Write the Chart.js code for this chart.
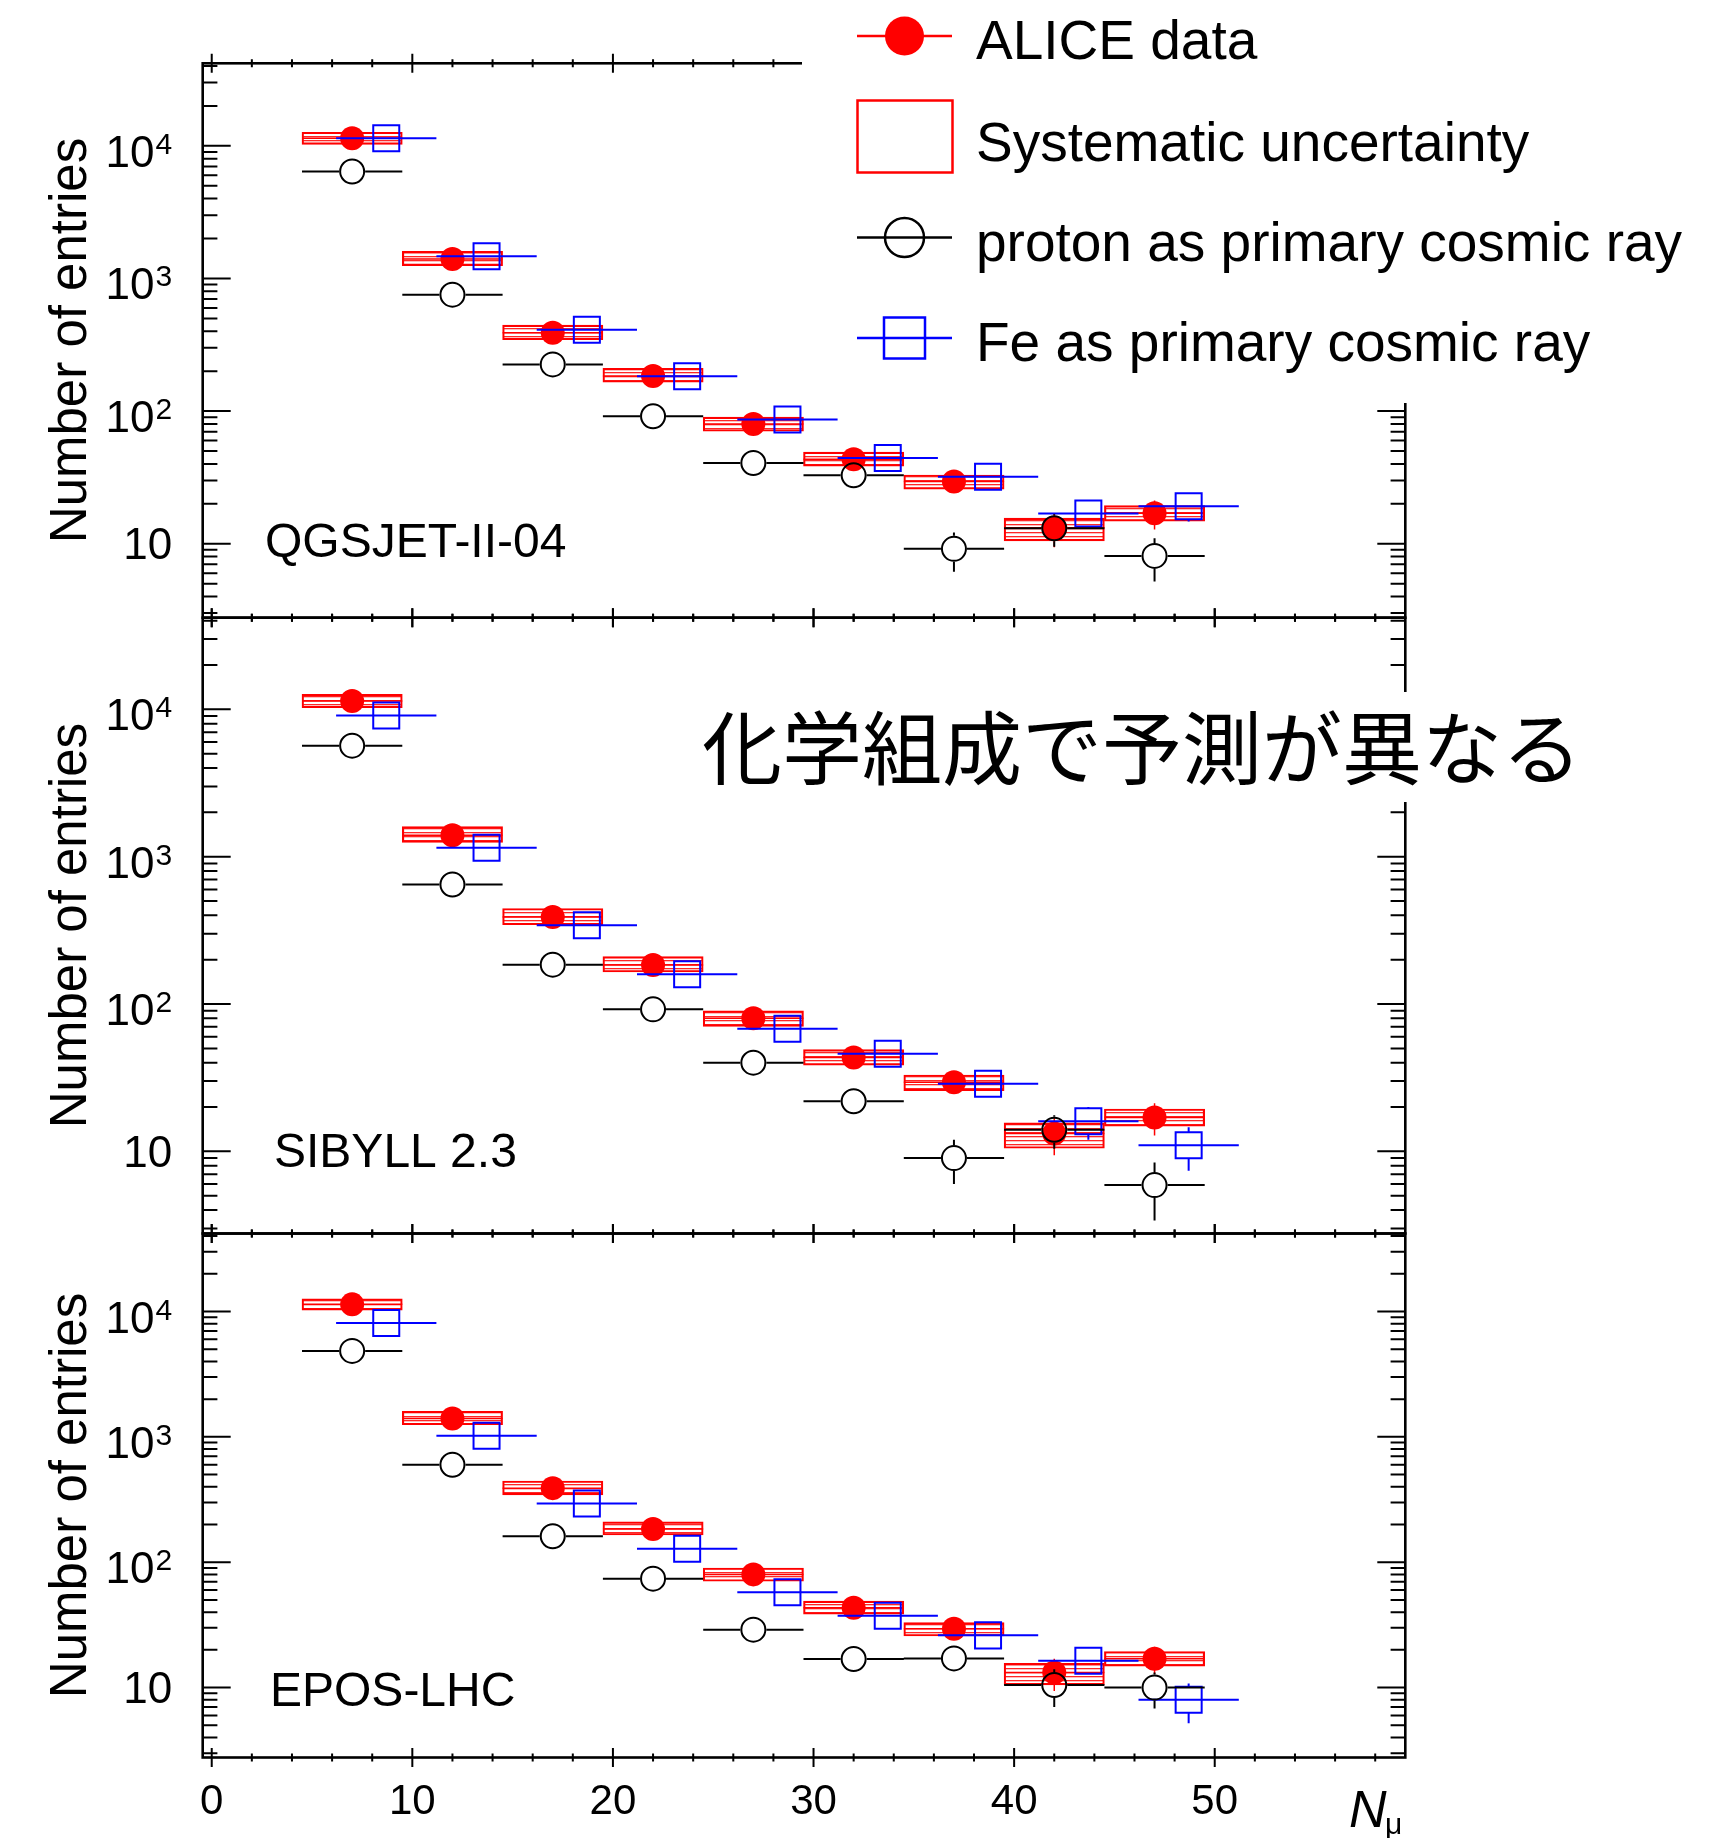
<!DOCTYPE html>
<html>
<head>
<meta charset="utf-8">
<script src="https://cdn.jsdelivr.net/npm/chart.js@4.4.1/dist/chart.umd.min.js"></script>
<style>
  html, body { margin: 0; padding: 0; background: #fff; }
  #page { position: relative; width: 1736px; height: 1838px; overflow: hidden; background: #fff; }
  #page canvas, #page svg { position: absolute; left: 0; top: 0; }
</style>
</head>
<body>
<div id="page">
  <canvas id="p1" width="1736" height="1838"></canvas>
  <canvas id="p2" width="1736" height="1838"></canvas>
  <canvas id="p3" width="1736" height="1838"></canvas>
  <svg id="overlay" width="1736" height="1838" xmlns="http://www.w3.org/2000/svg" style="pointer-events:none">
    <!-- legend (white box hides the frame corner, as in the original) -->
    <rect x="802" y="0" width="934" height="403" fill="#fff"/>
    <line x1="857" y1="36" x2="952" y2="36" stroke="#ff0000" stroke-width="2.5"/>
    <circle cx="904.5" cy="36" r="19.5" fill="#ff0000"/>
    <rect x="857.5" y="100.5" width="95" height="72" fill="#fff" stroke="#ff0000" stroke-width="2.5"/>
    <line x1="857" y1="237.5" x2="952" y2="237.5" stroke="#000" stroke-width="2.5"/>
    <circle cx="904.5" cy="237.5" r="19.5" fill="none" stroke="#000" stroke-width="2.5"/>
    <line x1="857" y1="338" x2="952" y2="338" stroke="#0000ff" stroke-width="2.5"/>
    <rect x="884" y="317.5" width="41" height="41" fill="none" stroke="#0000ff" stroke-width="2.5"/>
    <g font-family="Liberation Sans, Arial, sans-serif" font-size="55" fill="#000">
      <text x="976" y="59">ALICE data</text>
      <text x="976" y="161">Systematic uncertainty</text>
      <text x="976" y="261">proton as primary cosmic ray</text>
      <text x="976" y="361">Fe as primary cosmic ray</text>
    </g>
    <!-- annotation -->
    <rect x="690" y="692" width="905" height="110" fill="#fff"/>
    <text x="702" y="778" font-family="Noto Sans CJK JP, sans-serif" font-size="80" fill="#000">化学組成で予測が異なる</text>
    <!-- x axis title -->
    <text x="1349" y="1827" font-family="Liberation Sans, Arial, sans-serif" font-size="52" font-style="italic" fill="#000">N</text>
    <text x="1385" y="1834" font-family="Liberation Sans, Arial, sans-serif" font-size="30" fill="#000">μ</text>
  </svg>
</div>
<script>
// bins of N_mu (bin width 5), Fe points are drawn slightly shifted
const binCenters = [7, 12, 17, 22, 27, 32, 37, 42, 47];
const feCenters = [8.7, 13.7, 18.7, 23.7, 28.7, 33.7, 38.7, 43.7, 48.7];
const binHalfWidth = 2.5;

// ALICE data (same in every panel)
const aliceData = [11400, 1400, 390, 184, 80, 43.4, 29.5, 13.2, 17.0];
const aliceStat = [0, 0, 0, 0, 0, 0, 0, 3.8, 4.2];
const aliceSysLow = [10250, 1250, 345, 165, 70.5, 38.5, 25.8, 10.5, 14.8];
const aliceSysHigh = [12650, 1600, 445, 210, 90, 49, 33, 15.6, 19.4];

// QGSJET-II-04
const qgsProton = [6400, 755, 225, 91.5, 40.6, 32.8, 9.15, 13.1, 8.1];
const qgsProtonErr = [0, 0, 0, 0, 0, 0, 3.0, 3.6, 2.9];
const qgsFe = [11400, 1470, 411, 183, 86.6, 44.3, 32.0, 16.9, 19.2];
const qgsFeErr = [0, 0, 0, 0, 0, 0, 0, 2.5, 4.5];

// SIBYLL 2.3
const sibProton = [5670, 647, 185, 92, 40, 21.9, 9.0, 14.0, 5.9];
const sibProtonErr = [0, 0, 0, 0, 0, 2.0, 3.0, 3.6, 2.5];
const sibFe = [9090, 1150, 342, 159, 68, 46, 28.8, 16.0, 11.0];
const sibFeErr = [0, 0, 0, 0, 0, 0, 3.0, 4.0, 3.6];

// EPOS-LHC
const eposProton = [4850, 599, 161, 74, 29, 16.9, 17.1, 10.5, 10.0];
const eposProtonErr = [0, 0, 0, 0, 0, 2.0, 2.0, 3.5, 3.2];
const eposFe = [8110, 1020, 294, 128, 57.7, 37.4, 26.1, 16.4, 8.0];
const eposFeErr = [0, 0, 0, 0, 0, 0, 0, 2.5, 2.8];

// axis ticks
const xMin = -0.45, xMax = 59.5;
const yMin = 2.77, yMax = 41900;
const xMajorTicks = [0, 10, 20, 30, 40, 50];
const xMinorStep = 2;
const yTickValues = [10, 100, 1000, 10000];
const yTickExp = ['', '2', '3', '4'];
const yMinorMult = [2, 3, 4, 5, 6, 7, 8, 9];

const FONT = 'Liberation Sans, Arial, sans-serif';
const RED = '#ff0000', BLUE = '#0000ff';

function hatchPattern() {
  const t = document.createElement('canvas');
  t.width = 8; t.height = 4;
  const c = t.getContext('2d');
  c.fillStyle = 'rgba(255,0,0,0.85)';
  c.fillRect(0, 0, 8, 1.3);
  return c.createPattern(t, 'repeat');
}

// horizontal/vertical error bars, drawn just under each dataset's markers
const errorBars = {
  id: 'errorBars',
  beforeDatasetDraw(chart, args) {
    const ds = chart.data.datasets[args.index];
    if (ds.errX === undefined) return;
    const {ctx, chartArea: a, scales: {x, y}} = chart;
    ctx.save();
    ctx.beginPath();
    ctx.rect(a.left, a.top, a.width, a.height);
    ctx.clip();
    ctx.strokeStyle = ds.pointBorderColor;
    ctx.lineWidth = ds.errWidth;
    ctx.beginPath();
    ds.data.forEach((p, i) => {
      const px = x.getPixelForValue(p.x), py = y.getPixelForValue(p.y);
      const xl = x.getPixelForValue(p.x - ds.errX), xr = x.getPixelForValue(p.x + ds.errX);
      ctx.moveTo(xl, py); ctx.lineTo(px - ds.gapX, py);
      ctx.moveTo(px + ds.gapX, py); ctx.lineTo(xr, py);
      const e = ds.errY[i];
      if (e > 0) {
        const yt = y.getPixelForValue(p.y + e), yb = y.getPixelForValue(p.y - e);
        if (yt < py - ds.gapY) { ctx.moveTo(px, py - ds.gapY); ctx.lineTo(px, yt); }
        if (yb > py + ds.gapY) { ctx.moveTo(px, py + ds.gapY); ctx.lineTo(px, yb); }
      }
    });
    ctx.stroke();
    ctx.restore();
  }
};

// ROOT style frame: ticks on all four sides, y labels with exponents, titles
const panelFrame = {
  id: 'panelFrame',
  afterDraw(chart, args, opts) {
    const {ctx, chartArea: a, scales: {x, y}} = chart;
    ctx.save();
    ctx.strokeStyle = '#000';
    ctx.lineWidth = 2;
    ctx.beginPath();
    for (let v = 0; v <= xMax; v += xMinorStep) {
      const px = x.getPixelForValue(v);
      const len = xMajorTicks.includes(v) ? 9.5 : 4;
      ctx.moveTo(px, a.top - len); ctx.lineTo(px, a.top + len);
      ctx.moveTo(px, a.bottom - len); ctx.lineTo(px, a.bottom + len);
    }
    yTickValues.concat([1]).forEach(dec => {
      yMinorMult.concat([1]).forEach(k => {
        const v = dec * k;
        if (v < yMin || v > yMax) return;
        const py = y.getPixelForValue(v);
        const len = k === 1 ? 28 : 14.7;
        ctx.moveTo(a.left, py); ctx.lineTo(a.left + len, py);
        ctx.moveTo(a.right - len, py); ctx.lineTo(a.right, py);
      });
    });
    ctx.stroke();
    ctx.lineWidth = 2.6;
    ctx.strokeRect(a.left, a.top, a.width, a.height);

    // y tick labels
    ctx.fillStyle = '#000';
    ctx.textAlign = 'right';
    ctx.textBaseline = 'alphabetic';
    const labelRight = a.left - 30.5;
    yTickValues.forEach((v, i) => {
      const py = y.getPixelForValue(v);
      if (!yTickExp[i]) {
        ctx.font = '44px ' + FONT;
        ctx.fillText('10', labelRight, py + 15.5);
      } else {
        ctx.font = '30px ' + FONT;
        const w = ctx.measureText(yTickExp[i]).width;
        ctx.fillText(yTickExp[i], labelRight, py + 8);
        ctx.font = '44px ' + FONT;
        ctx.fillText('10', labelRight - w - 1, py + 21);
      }
    });

    // y axis title
    ctx.save();
    ctx.translate(86, (a.top + a.bottom) / 2);
    ctx.rotate(-Math.PI / 2);
    ctx.textAlign = 'center';
    ctx.font = '51px ' + FONT;
    ctx.fillText('Number of entries', 0, 0);
    ctx.restore();

    // model name
    ctx.textAlign = 'left';
    ctx.font = '48px ' + FONT;
    ctx.fillText(opts.title, opts.titleX, opts.titleY);
    ctx.restore();
  }
};

function makePanel(id, proton, protonErr, fe, feErr, box, showX, title, titleX, titleY) {
  const pattern = hatchPattern();
  return new Chart(document.getElementById(id), {
    type: 'scatter',
    data: {
      datasets: [
        {
          label: 'proton as primary cosmic ray',
          data: binCenters.map((v, i) => ({x: v, y: proton[i]})),
          pointStyle: 'circle', pointRadius: 12,
          pointBorderWidth: 2, pointBorderColor: '#000', pointBackgroundColor: 'rgba(0,0,0,0)',
          errX: binHalfWidth, errY: protonErr, gapX: 13, gapY: 13, errWidth: 2
        },
        {
          label: 'Fe as primary cosmic ray',
          data: feCenters.map((v, i) => ({x: v, y: fe[i]})),
          pointStyle: 'rect', pointRadius: 18.4,
          pointBorderWidth: 2, pointBorderColor: BLUE, pointBackgroundColor: 'rgba(0,0,0,0)',
          errX: binHalfWidth, errY: feErr, gapX: 0, gapY: 13, errWidth: 2
        },
        {
          label: 'ALICE data',
          data: binCenters.map((v, i) => ({x: v, y: aliceData[i]})),
          pointStyle: 'circle', pointRadius: 12,
          pointBorderWidth: 0, pointBorderColor: RED, pointBackgroundColor: RED,
          errX: binHalfWidth, errY: aliceStat, gapX: 0, gapY: 0, errWidth: 1.5
        },
        {
          type: 'bar',
          label: 'Systematic uncertainty',
          data: binCenters.map((v, i) => ({x: v, y: [aliceSysLow[i], aliceSysHigh[i]]})),
          backgroundColor: pattern, borderColor: RED, borderWidth: 1.5,
          borderSkipped: false, barPercentage: 1, categoryPercentage: 1, grouped: false
        }
      ]
    },
    options: {
      responsive: false,
      animation: false,
      devicePixelRatio: 1,
      events: [],
      layout: {padding: box},
      plugins: {
        legend: {display: false},
        tooltip: {enabled: false},
        panelFrame: {title: title, titleX: titleX, titleY: titleY}
      },
      scales: {
        x: {
          type: 'linear', min: xMin, max: xMax, display: showX, offset: false,
          afterBuildTicks: s => { s.ticks = xMajorTicks.map(v => ({value: v})); },
          ticks: {
            autoSkip: false, maxRotation: 0,
            padding: 20, color: '#000', font: {family: FONT, size: 42}
          },
          grid: {display: false, drawTicks: false, offset: false},
          border: {display: false},
          afterFit: s => { if (s.options.display) s.height = 80.5; }
        },
        y: {type: 'logarithmic', min: yMin, max: yMax, display: false}
      }
    },
    plugins: [errorBars, panelFrame]
  });
}

makePanel('p1', qgsProton, qgsProtonErr, qgsFe, qgsFeErr,
  {left: 202.7, right: 330.7, top: 63.3, bottom: 1838 - 617.7}, false, 'QGSJET-II-04', 265, 557);
makePanel('p2', sibProton, sibProtonErr, sibFe, sibFeErr,
  {left: 202.7, right: 330.7, top: 617.7, bottom: 1838 - 1233.5}, false, 'SIBYLL 2.3', 274, 1167);
makePanel('p3', eposProton, eposProtonErr, eposFe, eposFeErr,
  {left: 202.7, right: 330.7, top: 1233.5, bottom: 0}, true, 'EPOS-LHC', 270, 1706);
</script>
</body>
</html>
